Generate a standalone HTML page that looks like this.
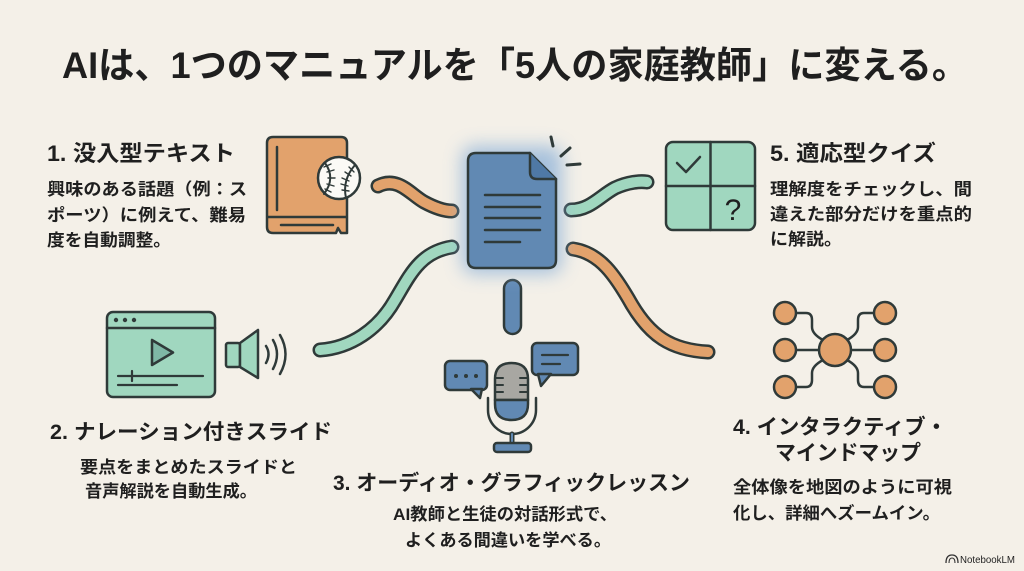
<!DOCTYPE html>
<html><head><meta charset="utf-8">
<style>
html,body{margin:0;padding:0;background:#f4f0e8;}
svg{display:block;}
text{font-family:"Liberation Sans","Noto Sans CJK JP",sans-serif;fill:#1f1f1f;font-weight:bold;}
text.thin{font-weight:normal;}
</style></head>
<body>
<svg width="1024" height="571" viewBox="0 0 1024 571" xmlns="http://www.w3.org/2000/svg">
<defs>
<filter id="glow" x="-50%" y="-50%" width="200%" height="200%"><feGaussianBlur stdDeviation="9"/></filter>
</defs>
<rect width="1024" height="571" fill="#f4f0e8"/>

<!-- Title -->
<text x="62" y="78" font-size="37" textLength="906" lengthAdjust="spacingAndGlyphs">AIは、1つのマニュアルを「5人の家庭教師」に変える。</text>

<!-- Section 1 -->
<text x="47" y="161" font-size="22" textLength="188" lengthAdjust="spacingAndGlyphs">1. 没入型テキスト</text>
<g font-size="17">
<text x="47" y="195" textLength="200" lengthAdjust="spacingAndGlyphs">興味のある話題（例：ス</text>
<text x="47" y="221" textLength="199" lengthAdjust="spacingAndGlyphs">ポーツ）に例えて、難易</text>
<text x="47" y="246" textLength="124" lengthAdjust="spacingAndGlyphs">度を自動調整。</text>
</g>

<!-- Section 5 -->
<text x="770" y="161" font-size="22" textLength="166" lengthAdjust="spacingAndGlyphs">5. 適応型クイズ</text>
<g font-size="17">
<text x="770" y="195" textLength="202" lengthAdjust="spacingAndGlyphs">理解度をチェックし、間</text>
<text x="770" y="220" textLength="202" lengthAdjust="spacingAndGlyphs">違えた部分だけを重点的</text>
<text x="770" y="245" textLength="72" lengthAdjust="spacingAndGlyphs">に解説。</text>
</g>

<!-- Section 2 -->
<text x="50" y="439" font-size="21" textLength="282" lengthAdjust="spacingAndGlyphs">2. ナレーション付きスライド</text>
<g font-size="17">
<text x="80" y="473" textLength="217" lengthAdjust="spacingAndGlyphs">要点をまとめたスライドと</text>
<text x="85" y="497" textLength="172" lengthAdjust="spacingAndGlyphs">音声解説を自動生成。</text>
</g>

<!-- Section 3 -->
<text x="333" y="490" font-size="21" textLength="357" lengthAdjust="spacingAndGlyphs">3. オーディオ・グラフィックレッスン</text>
<g font-size="17">
<text x="393" y="520" textLength="224" lengthAdjust="spacingAndGlyphs">AI教師と生徒の対話形式で、</text>
<text x="405" y="546" textLength="206" lengthAdjust="spacingAndGlyphs">よくある間違いを学べる。</text>
</g>

<!-- Section 4 -->
<text x="733" y="434" font-size="21" textLength="214" lengthAdjust="spacingAndGlyphs">4. インタラクティブ・</text>
<text x="775" y="460" font-size="21" textLength="146" lengthAdjust="spacingAndGlyphs">マインドマップ</text>
<g font-size="17">
<text x="733" y="493" textLength="219" lengthAdjust="spacingAndGlyphs">全体像を地図のように可視</text>
<text x="733" y="519" textLength="207" lengthAdjust="spacingAndGlyphs">化し、詳細へズームイン。</text>
</g>

<!-- NotebookLM -->
<g>
<path d="M946,563 Q946,555 952,555 Q958,555 958,563" fill="none" stroke="#333" stroke-width="1.3"/>
<path d="M949,563 Q949,558 952,558 Q955,558 955,563" fill="none" stroke="#333" stroke-width="1.1"/>
<text class="thin" x="960" y="563" font-size="10" fill="#333" textLength="55" lengthAdjust="spacingAndGlyphs">NotebookLM</text>
</g>

<g stroke="#2f3a39" stroke-linecap="round" stroke-linejoin="round">
<!-- Connectors -->
<path d="M378,186 C398,176 410,194 424,202 C437,209 445,211 452,211" fill="none" stroke-width="15"/>
<path d="M378,186 C398,176 410,194 424,202 C437,209 445,211 452,211" fill="none" stroke="#e2a26c" stroke-width="10"/>

<path d="M452,247 C420,252 410,275 395,300 C378,330 350,348 320,350" fill="none" stroke-width="15"/>
<path d="M452,247 C420,252 410,275 395,300 C378,330 350,348 320,350" fill="none" stroke="#a0d7bf" stroke-width="10"/>

<path d="M571,210 C590,210 600,196 615,188 C628,182 640,181 647,182" fill="none" stroke-width="15"/>
<path d="M571,210 C590,210 600,196 615,188 C628,182 640,181 647,182" fill="none" stroke="#a0d7bf" stroke-width="10"/>

<path d="M573,249 C600,253 615,275 632,305 C650,335 670,350 708,352" fill="none" stroke-width="15"/>
<path d="M573,249 C600,253 615,275 632,305 C650,335 670,350 708,352" fill="none" stroke="#e2a26c" stroke-width="10"/>

<rect x="504" y="280" width="17" height="54" rx="8.5" fill="#6189b3" stroke-width="2.5"/>

<!-- Document glow -->
<rect x="462" y="146" width="100" height="128" rx="12" fill="#8bb0d8" stroke="none" opacity="0.75" filter="url(#glow)"/>
<!-- Document -->
<path d="M476,153 H530 L556,179 V260 Q556,268 548,268 H476 Q468,268 468,260 V161 Q468,153 476,153 Z" fill="#6189b3" stroke-width="2.5"/>
<path d="M530,153 V172 Q530,179 537,179 H556" fill="#4f79a5" stroke-width="2.5"/>
<g stroke-width="2.5">
<line x1="485" y1="195" x2="540" y2="195"/>
<line x1="485" y1="207" x2="540" y2="207"/>
<line x1="485" y1="218" x2="540" y2="218"/>
<line x1="485" y1="230" x2="540" y2="230"/>
<line x1="485" y1="242" x2="520" y2="242"/>
</g>
<g stroke-width="3">
<line x1="551" y1="137" x2="553" y2="146"/>
<line x1="561" y1="156" x2="570" y2="148"/>
<line x1="567" y1="165" x2="580" y2="164"/>
</g>

<!-- Book -->
<path d="M273,137 H341 Q347,137 347,143 V233 H341 L338,228 L336,233 H273 Q267,233 267,227 V143 Q267,137 273,137 Z" fill="#e2a26c" stroke-width="2.5"/>
<line x1="268" y1="217" x2="346" y2="217" stroke-width="2.5"/>
<line x1="277" y1="147" x2="277" y2="210" stroke-width="2.5"/>
<line x1="281" y1="225" x2="333" y2="225" stroke-width="2.5"/>
<circle cx="339" cy="178" r="21" fill="#fbfaf6" stroke-width="2.5"/>
<path d="M325,163 Q336,178 324,194" fill="none" stroke-width="2"/>
<path d="M355,165 Q342,180 346,198" fill="none" stroke-width="2"/>
<g stroke-width="1.4">
<line x1="324" y1="167" x2="331" y2="164"/><line x1="327" y1="172" x2="334" y2="170"/><line x1="328" y1="178" x2="335" y2="178"/><line x1="327" y1="184" x2="334" y2="186"/><line x1="325" y1="189" x2="331" y2="192"/>
<line x1="349" y1="167" x2="354" y2="172"/><line x1="345" y1="172" x2="351" y2="176"/><line x1="342" y1="178" x2="349" y2="181"/><line x1="341" y1="184" x2="348" y2="186"/><line x1="342" y1="190" x2="349" y2="191"/>
</g>

<!-- Quiz -->
<rect x="666" y="142" width="89" height="88" rx="7" fill="#a0d7bf" stroke-width="2.5"/>
<line x1="710.5" y1="142" x2="710.5" y2="230" stroke-width="2.5"/>
<line x1="666" y1="186" x2="755" y2="186" stroke-width="2.5"/>
<polyline points="677,163 686,172 700,157" fill="none" stroke-width="2.5"/>
<text class="thin" x="733" y="220" font-size="30" fill="#2f3a39" stroke="none" text-anchor="middle">?</text>

<!-- Video -->
<rect x="107" y="312" width="108" height="85" rx="6" fill="#a0d7bf" stroke-width="2.5"/>
<line x1="107" y1="328" x2="215" y2="328" stroke-width="2.5"/>
<g fill="#2f3a39" stroke="none"><circle cx="116" cy="320" r="2.2"/><circle cx="125" cy="320" r="2.2"/><circle cx="134" cy="320" r="2.2"/></g>
<polygon points="152,340 152,365 173,352.5" fill="#7fb8a6" stroke-width="2.5"/>
<line x1="118" y1="376" x2="203" y2="376" stroke-width="2.2"/>
<line x1="132" y1="371" x2="132" y2="381" stroke-width="2.2"/>
<line x1="118" y1="385" x2="177" y2="385" stroke-width="2.2"/>
<!-- Speaker -->
<rect x="226" y="343" width="14" height="24" rx="2" fill="#a0d7bf" stroke-width="2.5"/>
<polygon points="240,343 258,330 258,378 240,367" fill="#a0d7bf" stroke-width="2.5"/>
<path d="M266,346 Q271,354 266,363" fill="none" stroke-width="2.5"/>
<path d="M273,340 Q281,354 273,369" fill="none" stroke-width="2.5"/>
<path d="M280,335 Q291,354 280,374" fill="none" stroke-width="2.5"/>

<!-- Mic -->
<rect x="445" y="361" width="42" height="29" rx="5" fill="#6189b3" stroke-width="2.5"/>
<polygon points="471,389 480,398 482,389" fill="#6189b3" stroke-width="2.5"/>
<g fill="#2f3a39" stroke="none"><circle cx="456" cy="376" r="2"/><circle cx="466" cy="376" r="2"/><circle cx="476" cy="376" r="2"/></g>
<rect x="532" y="343" width="46" height="32" rx="5" fill="#6189b3" stroke-width="2.5"/>
<polygon points="538,374 541,386 551,374" fill="#6189b3" stroke-width="2.5"/>
<line x1="542" y1="355" x2="568" y2="355" stroke-width="2.2"/>
<line x1="542" y1="364" x2="560" y2="364" stroke-width="2.2"/>
<path d="M488,398 V410 A24,24 0 0 0 536,410 V398" fill="none" stroke-width="2.5"/>
<path d="M495,400 V379 Q495,363 511.5,363 Q528,363 528,379 V400 Z" fill="#a8a7a2" stroke-width="2.5"/>
<path d="M495,400 H528 V404 Q528,420 511.5,420 Q495,420 495,404 Z" fill="#6189b3" stroke-width="2.5"/>
<g stroke-width="2">
<line x1="495" y1="378" x2="503" y2="378"/><line x1="495" y1="385" x2="503" y2="385"/><line x1="495" y1="392" x2="503" y2="392"/>
<line x1="520" y1="378" x2="528" y2="378"/><line x1="520" y1="385" x2="528" y2="385"/><line x1="520" y1="392" x2="528" y2="392"/>
</g>
<line x1="512" y1="434" x2="512" y2="444" stroke-width="5"/>
<line x1="512" y1="434" x2="512" y2="444" stroke="#6189b3" stroke-width="2"/>
<rect x="494" y="443" width="37" height="9" rx="3" fill="#6189b3" stroke-width="2.5"/>

<!-- Mind map -->
<g fill="none" stroke-width="2.5">
<line x1="796" y1="350" x2="819" y2="350"/>
<line x1="851" y1="350" x2="874" y2="350"/>
<path d="M796,313 H806 Q812,313 812,320 V327 Q812,334 823,340"/>
<path d="M874,313 H864 Q858,313 858,320 V327 Q858,334 847,340"/>
<path d="M796,387 H806 Q812,387 812,380 V373 Q812,366 823,360"/>
<path d="M874,387 H864 Q858,387 858,380 V373 Q858,366 847,360"/>
</g>
<g fill="#e2a26c" stroke-width="2.5">
<circle cx="835" cy="350" r="16"/>
<circle cx="785" cy="313" r="11"/><circle cx="785" cy="350" r="11"/><circle cx="785" cy="387" r="11"/>
<circle cx="885" cy="313" r="11"/><circle cx="885" cy="350" r="11"/><circle cx="885" cy="387" r="11"/>
</g>
</g>
</svg>
</body></html>
